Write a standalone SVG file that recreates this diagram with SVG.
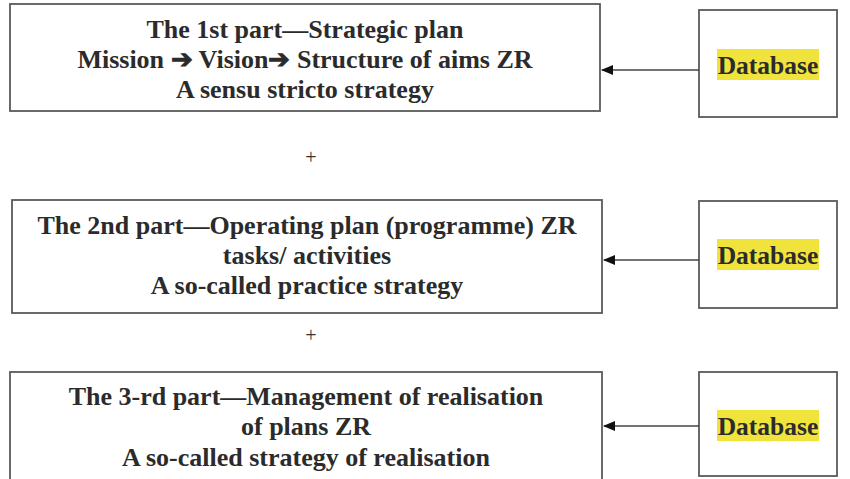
<svg xmlns="http://www.w3.org/2000/svg" width="850" height="479" viewBox="0 0 850 479">
<style>
.box{fill:#fff;stroke:#5a5a5a;stroke-width:1.8}
.hl{fill:#f0e43c}
.con{stroke:#444;stroke-width:1.6;fill:none;marker-end:url(#ah)}
</style>
<defs>
<marker id="ah" markerWidth="12" markerHeight="10" refX="11" refY="5" orient="auto" markerUnits="userSpaceOnUse">
<path d="M0,0 L12,5 L0,10 Z" fill="#111"/>
</marker>
</defs>
<rect width="850" height="479" fill="#fff"/>
<g id="part1">
<rect class="box" x="10" y="4" width="590" height="107"/>
<text font-family="Liberation Serif" font-weight="bold" font-size="26" fill="#2b2b2b" text-anchor="middle" x="305" y="38">The 1st part—Strategic plan</text>
<text font-family="Liberation Serif" font-weight="bold" font-size="26" fill="#2b2b2b" text-anchor="middle" x="305" y="68">Mission ➔ Vision➔ Structure of aims ZR</text>
<text font-family="Liberation Serif" font-weight="bold" font-size="26" fill="#2b2b2b" text-anchor="middle" x="305" y="98">A sensu stricto strategy</text>
</g>
<g id="db1">
<rect class="box" x="699" y="10" width="138" height="107"/>
<rect class="hl" x="717" y="49" width="102" height="31"/>
<text font-family="Liberation Serif" font-weight="bold" font-size="25.5" fill="#2b2b2b" text-anchor="middle" x="768" y="74">Database</text>
</g>
<text font-family="Liberation Serif" font-size="20" fill="#333" text-anchor="middle" x="311" y="164">+</text>
<g id="part2">
<rect class="box" x="12" y="200" width="590" height="113"/>
<text font-family="Liberation Serif" font-weight="bold" font-size="26" fill="#2b2b2b" text-anchor="middle" x="307" y="234">The 2nd part—Operating plan (programme) ZR</text>
<text font-family="Liberation Serif" font-weight="bold" font-size="26" fill="#2b2b2b" text-anchor="middle" x="307" y="264">tasks/ activities</text>
<text font-family="Liberation Serif" font-weight="bold" font-size="26" fill="#2b2b2b" text-anchor="middle" x="307" y="294">A so-called practice strategy</text>
</g>
<g id="db2">
<rect class="box" x="699" y="201" width="138" height="107"/>
<rect class="hl" x="717" y="239" width="102" height="31"/>
<text font-family="Liberation Serif" font-weight="bold" font-size="25.5" fill="#2b2b2b" text-anchor="middle" x="768" y="264">Database</text>
</g>
<text font-family="Liberation Serif" font-size="20" fill="#333" text-anchor="middle" x="311" y="342">+</text>
<g id="part3">
<rect class="box" x="10" y="372" width="592" height="112"/>
<text font-family="Liberation Serif" font-weight="bold" font-size="26" fill="#2b2b2b" text-anchor="middle" x="306" y="405">The 3-rd part—Management of realisation</text>
<text font-family="Liberation Serif" font-weight="bold" font-size="26" fill="#2b2b2b" text-anchor="middle" x="306" y="435">of plans ZR</text>
<text font-family="Liberation Serif" font-weight="bold" font-size="26" fill="#2b2b2b" text-anchor="middle" x="306" y="466">A so-called strategy of realisation</text>
</g>
<g id="db3">
<rect class="box" x="699" y="372" width="138" height="104"/>
<rect class="hl" x="717" y="410" width="102" height="31"/>
<text font-family="Liberation Serif" font-weight="bold" font-size="25.5" fill="#2b2b2b" text-anchor="middle" x="768" y="435">Database</text>
</g>
<g id="connectors">
<line class="con" x1="699" y1="70" x2="602" y2="70"/>
<line class="con" x1="699" y1="260" x2="604" y2="260"/>
<line class="con" x1="699" y1="426" x2="604" y2="426"/>
</g>
</svg>
